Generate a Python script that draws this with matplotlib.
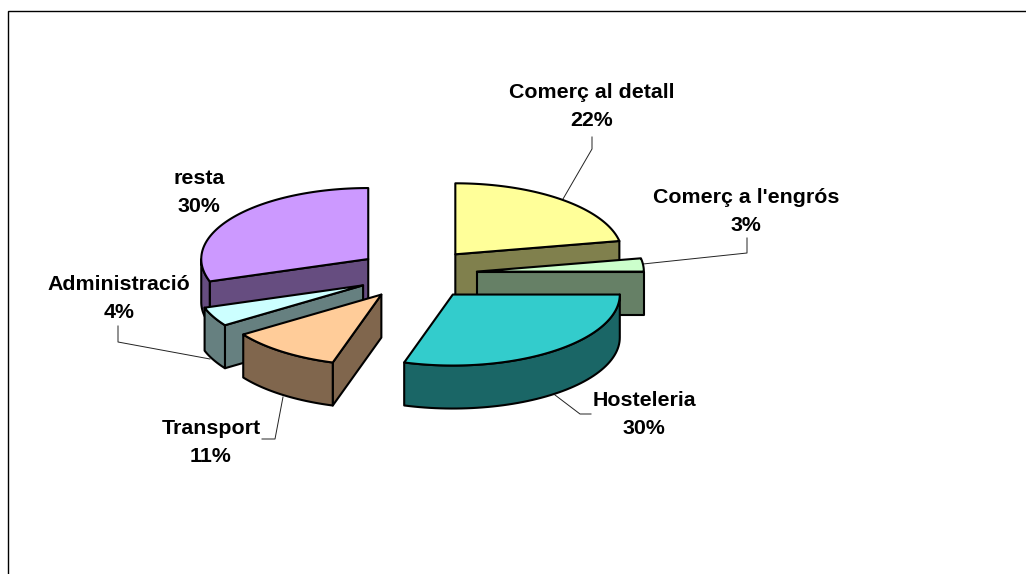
import numpy as np
import matplotlib
matplotlib.use("Agg")
import matplotlib.pyplot as plt
from matplotlib.patches import Polygon

categories = ["Comerç al detall", "Comerç a l'engrós", "Hosteleria", "Transport", "Administració", "resta"]
values = [22.0, 3.0, 29.7, 10.8, 4.4, 30.1]
top_colors = ["#FFFF99", "#CCFFCC", "#33CCCC", "#FFCC99", "#CCFFFF", "#CC99FF"]
side_colors = ["#80804D", "#668066", "#1A6666", "#80664D", "#668080", "#664D80"]
label_centers = [(592, 92.5), (746, 197.5), (644, 401), (211, 428.5), (119, 284.5), (199, 179)]
leaders = [
    [(592, 137), (592, 149), (563, 199)],
    [(747, 238), (747, 253), (643, 264)],
    [(555, 395), (580, 414), (591, 414)],
    [(283, 397), (275, 439), (262, 439)],
    [(118, 326), (118, 342), (210, 359)],
    [],
]

CX, CY, A, B, DEPTH, EXPLODE = 417, 274, 167, 71, 43, 0.36
LW = 1.5

plt.rcParams["font.family"] = ["Liberation Sans", "DejaVu Sans"]
fig = plt.figure(figsize=(10.26, 5.74), dpi=100, facecolor="white")
ax = fig.add_axes([0, 0, 1, 1])
ax.set_xlim(0, 1026)
ax.set_ylim(574, 0)
ax.axis("off")

# chart frame (right and bottom run off the picture)
ax.plot([8, 8, 1026], [574, 11, 11], color="black", lw=1.0, zorder=1, solid_joinstyle="miter")

for pts in leaders:
    if pts:
        xs, ys = zip(*pts)
        ax.plot(xs, ys, color="#222222", lw=0.7, zorder=2)


def rim(ox, oy, t):
    return ox + A * np.sin(t), oy - B * np.cos(t)


total = sum(values)
edges = np.radians(np.concatenate([[0], np.cumsum(values)]) * 360.0 / total)
wedges = []
for i in range(len(values)):
    t0, t1 = edges[i], edges[i + 1]
    mid = (t0 + t1) / 2
    ox, oy = rim(CX, CY, mid)
    ox = CX + (ox - CX) * EXPLODE
    oy = CY + (oy - CY) * EXPLODE
    wedges.append((oy, i, t0, t1, ox, oy))
wedges.sort()

z = 3
for _, i, t0, t1, ox, oy in wedges:
    faces = []
    for t, visible in ((t0, np.sin(t0) < -1e-6), (t1, np.sin(t1) > 1e-6)):
        if visible:
            x, y = rim(ox, oy, t)
            faces.append([(ox, oy), (x, y), (x, y + DEPTH), (ox, oy + DEPTH)])
    lo, hi = max(t0, np.pi / 2), min(t1, 3 * np.pi / 2)
    if hi > lo:
        ts = np.linspace(lo, hi, 60)
        x, y = rim(ox, oy, ts)
        faces.append(list(zip(x, y)) + list(zip(x[::-1], y[::-1] + DEPTH)))
    for f in faces:
        ax.add_patch(Polygon(f, closed=True, fc=side_colors[i], ec="black", lw=LW, joinstyle="round", zorder=z))
        z += 1
    ts = np.linspace(t0, t1, 80)
    x, y = rim(ox, oy, ts)
    top = [(ox, oy)] + list(zip(x, y))
    ax.add_patch(Polygon(top, closed=True, fc=top_colors[i], ec="black", lw=LW, joinstyle="round", zorder=z))
    z += 1

for name, v, (lx, ly) in zip(categories, values, label_centers):
    ax.text(lx, ly, name, ha="center", va="center", fontsize=15.4, fontweight="bold", color="black", zorder=100)
    ax.text(lx, ly + 28, f"{round(v)}%", ha="center", va="center", fontsize=15.4, fontweight="bold", color="black", zorder=100)

fig.savefig("out.png", dpi=100)
